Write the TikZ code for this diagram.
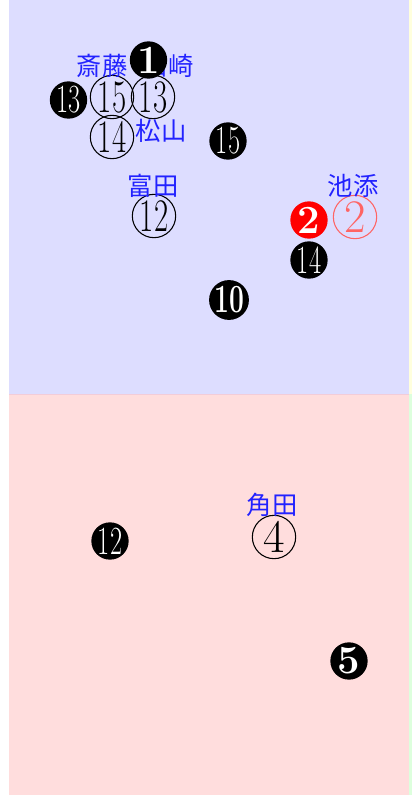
\documentclass[tikz,border=0pt]{standalone}
\usepackage{fontspec}
\newfontfamily\cjk{Noto Sans CJK JP}
\definecolor{paleblue}{RGB}{221,221,255}
\definecolor{palered}{RGB}{255,221,221}
\definecolor{paleyellow}{RGB}{255,255,221}
\definecolor{palegreen}{RGB}{221,255,221}
\definecolor{namecolor}{RGB}{34,34,255}
\definecolor{lightred}{RGB}{255,100,100}
\tikzset{%
    opencirc/.style={circle, draw=black, line width=0.8pt, inner sep=0pt,
        minimum size=32.5pt, font=\fontsize{35}{35}\selectfont},
    fullcirc/.style={circle, fill=black, text=white, inner sep=0pt,
        minimum size=28pt, font=\fontsize{30}{30}\selectfont},
    namelbl/.style={text=namecolor, inner sep=0pt,
        font=\cjk\fontsize{19}{19}\selectfont}
}
\newcommand{\two}[1]{\scalebox{0.66}[1]{#1}}

\begin{document}
\begin{tikzpicture}[x=0.75pt,y=-0.75pt]
    \useasboundingbox (0,0) rectangle (412,795);
    \fill[paleblue] (9,0) rectangle (409,394);
    \fill[palered] (9,394) rectangle (409,795);
    \fill[paleyellow] (409,0) rectangle (412,394);
    \fill[palegreen] (409,394) rectangle (412,795);
    \draw[purple!20, line width=0.75pt] (9,394)--(409,394);
%-----------------------------------------------
    \node[namelbl] (yamazaki) at (168,66) {山崎};
%-----------------------------------------------
    \node[fullcirc] (b1) at (148.5,60) {\textbf{1}};
    \node[fullcirc] (b13) at (68.5,100) {\two{13}};
    \node[opencirc] (o15) at (112,97) {\two{15}};
    \node[opencirc] (o13) at (153,97) {\two{13}};
    \node[opencirc] (o14) at (112,137) {\two{14}};
    \node[fullcirc] (b15) at (228,141) {\two{15}};
    \node[opencirc] (o12) at (154,216) {\two{12}};
    \node[fullcirc, fill=red] (b2) at (309,220) {\textbf{2}};
    \node[opencirc, draw=lightred, text=lightred] (o2) at (355,217) {2};
    \node[fullcirc] (b14) at (309,260) {\two{14}};
    \node[fullcirc] (b10) at (229,300) {\two{\textbf{10}}};
%-----------------------------------------------
    \node[opencirc] (o4) at (274,537) {4};
    \node[fullcirc] (b12) at (110,541) {\two{12}};
    \node[fullcirc] (b5) at (349,661) {\textbf{5}};
%-----------------------------------------------
    \node[namelbl] (saito) at (102,66) {斎藤};
    \node[namelbl] (matsuyama) at (161,131) {松山};
    \node[namelbl] (tomita) at (153,186) {富田};
    \node[namelbl] (ikezoe) at (353,186) {池添};
    \node[namelbl] (kakuda) at (272,505) {角田};
\end{tikzpicture}
\end{document}
